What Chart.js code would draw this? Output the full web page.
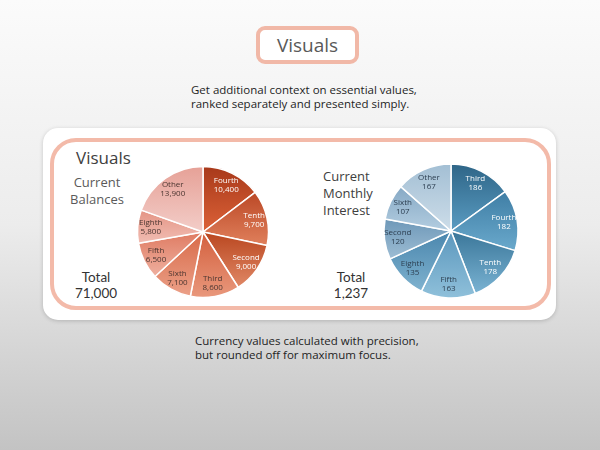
<!DOCTYPE html>
<html>
<head>
<meta charset="utf-8">
<script src="https://cdn.jsdelivr.net/npm/chart.js@4.4.1/dist/chart.umd.min.js"></script>
<style>
  html, body { margin: 0; padding: 0; }
  body {
    width: 600px; height: 450px; position: relative; overflow: hidden;
    background: linear-gradient(#fbfbfb 0%, #ececec 50%, #c3c3c3 100%);
    font-family: "Open Sans", "Noto Sans", sans-serif;
  }
  .titlebox {
    position: absolute; left: 256px; top: 26px; width: 95px; height: 30px;
    border: 4px solid #f1b8a7; border-radius: 9px; background: #fff;
    color: #595959; font-size: 19px; line-height: 30px; text-align: center;
  }
  .note { position: absolute; font-size: 11.5px; line-height: 14px; color: #1e1e1e; white-space: nowrap; }
  .card {
    position: absolute; left: 43px; top: 128px; width: 513px; height: 192px;
    background: #fff; border-radius: 15px; box-shadow: 0 1px 4px rgba(0,0,0,0.18);
  }
  .frame {
    position: absolute; left: 50px; top: 138px; width: 493px; height: 164px;
    border: 4px solid #f3baa9; border-radius: 26px;
  }
  .txt { position: absolute; color: #505050; white-space: nowrap; }
  .tot {
    position: absolute; font-family: Lato, "Open Sans", sans-serif; font-size: 13.5px;
    line-height: 16px; color: #333; text-align: center; white-space: nowrap;
  }
  canvas { position: absolute; }
</style>
</head>
<body>
<div class="titlebox">Visuals</div>
<div class="note" style="left:191px; top:83px;">Get additional context on essential values,<br>ranked separately and presented simply.</div>
<div class="card"></div>
<div class="frame"></div>

<div class="txt" style="left:76px; top:146px; font-size:17px; color:#404040;">Visuals</div>
<div class="txt" style="left:70px; top:174px; width:54px; text-align:center; font-size:13px; line-height:17px; color:#5a5a5a;">Current<br>Balances</div>
<div class="tot" style="left:71px; top:269px; width:50px;">Total</div>
<div class="tot" style="left:71px; top:285px; width:50px;">71,000</div>

<div class="txt" style="left:323px; top:168px; font-size:13px; line-height:17px; color:#404040;">Current<br>Monthly<br>Interest</div>
<div class="tot" style="left:331px; top:269px; width:40px;">Total</div>
<div class="tot" style="left:331px; top:285px; width:40px;">1,237</div>

<canvas id="balances" width="150" height="150" style="left:128px; top:157px;"></canvas>
<canvas id="interest" width="150" height="150" style="left:376px; top:156px;"></canvas>

<div class="note" style="left:195px; top:334px;">Currency values calculated with precision,<br>but rounded off for maximum focus.</div>

<script>
// 데이터
const balanceLabels = ['Fourth', 'Tenth', 'Second', 'Third', 'Sixth', 'Fifth', 'Eighth', 'Other'];
const balanceValues = [10400, 9700, 9000, 8600, 7100, 6500, 5800, 13900];
const balanceText = ['10,400', '9,700', '9,000', '8,600', '7,100', '6,500', '5,800', '13,900'];

const interestLabels = ['Third', 'Fourth', 'Tenth', 'Fifth', 'Eighth', 'Second', 'Sixth', 'Other'];
const interestValues = [186, 182, 178, 163, 135, 120, 107, 167];

// 조각 색상 (위쪽 진한색, 아래쪽 밝은색)
const balanceDark = ['#a8391a', '#bb4826', '#b9461f', '#d35f3d', '#d86a48', '#df7b62', '#e49484', '#e6a197'];
const balanceLight = ['#dc6238', '#e0805c', '#e08866', '#e9987c', '#eba088', '#efb0a0', '#f1bdb3', '#f3cdc8'];
const balanceInk = ['#fff', '#fff', '#fff', '#4a3530', '#4a3530', '#4a3530', '#4a3530', '#4a3530'];

const interestDark = ['#2e6587', '#3f7ea5', '#3a7699', '#5b97bd', '#4a86ad', '#6e98b8', '#86a9c5', '#a3bfd4'];
const interestLight = ['#5a9cc2', '#6aa9cc', '#7ab3d3', '#8fc0da', '#7fb2cf', '#9dbdd4', '#b3cde0', '#cddde9'];
const interestInk = ['#fff', '#fff', '#fff', '#2c3e50', '#2c3e50', '#2c3e50', '#2c3e50', '#2c3e50'];

// 조각마다 세로 그라데이션
function sliceGradient(dark, light) {
  return function (ctx) {
    const chart = ctx.chart;
    const area = chart.chartArea;
    const i = ctx.dataIndex;
    if (!area || i === undefined) return dark[i] || dark[0];
    const vals = chart.data.datasets[0].data;
    const total = vals.reduce((a, b) => a + b, 0);
    let before = 0;
    for (let k = 0; k < i; k++) before += vals[k];
    const a0 = -Math.PI / 2 + before / total * Math.PI * 2;
    const a1 = a0 + vals[i] / total * Math.PI * 2;
    const cy = (area.top + area.bottom) / 2;
    const r = chart.options.radius;
    const ys = [cy, cy + r * Math.sin(a0), cy + r * Math.sin(a1)];
    if (a0 <= Math.PI / 2 && a1 >= Math.PI / 2) ys.push(cy + r);
    if (a1 >= Math.PI * 1.5) ys.push(cy - r);
    if (a0 <= -Math.PI / 2 + 0.001) ys.push(cy - r);
    const g = chart.ctx.createLinearGradient(0, Math.min(...ys), 0, Math.max(...ys));
    g.addColorStop(0, dark[i]);
    g.addColorStop(1, light[i]);
    return g;
  };
}

// 조각 안 라벨
const sliceLabels = {
  id: 'sliceLabels',
  afterDatasetsDraw(chart, args, opts) {
    const ctx = chart.ctx;
    const meta = chart.getDatasetMeta(0);
    ctx.save();
    ctx.font = '8px "Open Sans", sans-serif';
    ctx.textAlign = 'center';
    ctx.textBaseline = 'middle';
    meta.data.forEach((arc, i) => {
      const mid = (arc.startAngle + arc.endAngle) / 2;
      const d = arc.outerRadius * 0.8;
      const x = arc.x + Math.cos(mid) * d;
      const y = arc.y + Math.sin(mid) * d;
      ctx.fillStyle = opts.ink[i];
      ctx.fillText(chart.data.labels[i], x, y - 4.5);
      ctx.fillText(opts.text[i], x, y + 4.5);
    });
    ctx.restore();
  }
};

function makePie(id, labels, values, text, dark, light, ink, radius) {
  return new Chart(document.getElementById(id), {
    type: 'pie',
    data: {
      labels: labels,
      datasets: [{
        data: values,
        backgroundColor: sliceGradient(dark, light),
        borderColor: '#ffffff',
        borderWidth: 1.5
      }]
    },
    options: {
      responsive: false,
      animation: false,
      radius: radius,
      layout: { padding: 0 },
      plugins: {
        legend: { display: false },
        tooltip: { enabled: false },
        sliceLabels: { ink: ink, text: text }
      }
    },
    plugins: [sliceLabels]
  });
}

makePie('balances', balanceLabels, balanceValues, balanceText, balanceDark, balanceLight, balanceInk, 65.5);
makePie('interest', interestLabels, interestValues, interestValues.map(String), interestDark, interestLight, interestInk, 67);
</script>
</body>
</html>
